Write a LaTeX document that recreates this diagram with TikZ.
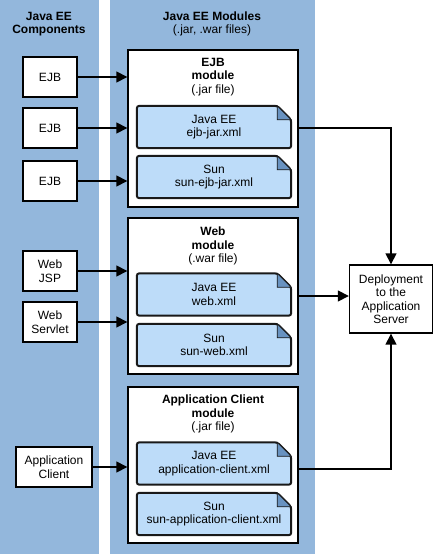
\documentclass[tikz,border=0pt]{standalone}
\usepackage{fontspec}
\setmainfont{Liberation Sans}
\usetikzlibrary{arrows.meta,calc}
\definecolor{colblue}{RGB}{147,183,220}
\definecolor{docblue}{RGB}{189,220,249}
\definecolor{foldblue}{RGB}{104,146,192}
\definecolor{docdark}{RGB}{25,25,25}
\newcommand\docnode[3]{%
  \node[doctext] (#1) at (#2) {#3};
  \draw[docline] ([xshift=-14pt]#1.north east) -- (#1.north west) -- (#1.south west) -- (#1.south east) -- ([yshift=-14pt]#1.north east) -- cycle;
  \draw[foldline] ([xshift=-14pt]#1.north east) -- ([xshift=-14pt,yshift=-14pt]#1.north east) -- ([yshift=-14pt]#1.north east) -- cycle;
  \node[doctext] at (#2) {#3};
}
\begin{document}
\begin{tikzpicture}[x=1pt,y=-1pt,
  every node/.style={font=\fontsize{12}{13.5}\selectfont, align=center, inner sep=0pt},
  column/.style={fill=colblue, draw=none},
  compbox/.style={draw=black, fill=white, line width=1.4pt, minimum height=40pt},
  modbox/.style={draw=black, fill=white, line width=1.4pt, minimum width=170pt},
  doctext/.style={minimum width=154pt, minimum height=42pt},
  docline/.style={fill=docblue, draw=docdark, line width=2pt, rounded corners=2.5pt},
  foldline/.style={fill=foldblue, draw=docdark, line width=0.7pt},
  conn/.style={line width=1.5pt, -{Triangle[length=11pt,width=11pt]}},
  title/.style={font=\fontsize{12}{13.5}\selectfont\bfseries}
]
\useasboundingbox (0,0) rectangle (433,554);
\fill[white] (0,0) rectangle (433,554);
\path[column] (0,0) rectangle (99,554);
\path[column] (110,0) rectangle (315,554);

\node[title] (tcomp) at (49,24) {Java EE\\Components};
\node (tmod) at (212,24) {\textbf{Java EE Modules}\\(.jar, .war files)};

% components
\node[compbox, minimum width=54pt] (ejb1) at (50,77) {EJB};
\node[compbox, minimum width=54pt] (ejb2) at (50,128) {EJB};
\node[compbox, minimum width=54pt] (ejb3) at (50,181) {EJB};
\node[compbox, minimum width=54pt] (jsp) at (50,271) {Web\\JSP};
\node[compbox, minimum width=54pt] (servlet) at (50,322) {Web\\Servlet};
\node[compbox, minimum width=76pt] (appc) at (54,467) {Application\\Client};

% modules
\node[modbox, minimum height=157pt] (ejbmod) at (213,128.5) {};
\node (ejbtitle) at (213,77) {\textbf{EJB}\\\textbf{module}\\(.jar file)};
\docnode{ejbdd}{214,127}{Java EE\\ejb-jar.xml}
\docnode{ejbsun}{214,177}{Sun\\sun-ejb-jar.xml}

\node[modbox, minimum height=156pt] (webmod) at (213,296) {};
\node (webtitle) at (213,246) {\textbf{Web}\\\textbf{module}\\(.war file)};
\docnode{webdd}{214,294.5}{Java EE\\web.xml}
\docnode{websun}{214,345}{Sun\\sun-web.xml}

\node[modbox, minimum height=156pt] (appmod) at (213,465) {};
\node (apptitle) at (213,414) {\textbf{Application Client}\\\textbf{module}\\(.jar file)};
\docnode{appdd}{214,463.5}{Java EE\\application-client.xml}
\docnode{appsun}{214,514}{Sun\\sun-application-client.xml}

% deployment
\node[compbox, minimum width=83pt, minimum height=68pt] (dep) at (391,299) {Deployment\\to the\\Application\\Server};

% connectors
\draw[conn] (ejb1.east) -- (ejb1.east -| ejbmod.west);
\draw[conn] (ejb2.east) -- (ejb2.east -| ejbmod.west);
\draw[conn] (ejb3.east) -- (ejb3.east -| ejbmod.west);
\draw[conn] (jsp.east) -- (jsp.east -| webmod.west);
\draw[conn] (servlet.east) -- (servlet.east -| webmod.west);
\draw[conn] (appc.east) -- (appc.east -| appmod.west);

\coordinate (ejbout) at ($(ejbmod.east)+(0,-0.5)$);
\draw[conn] (ejbout) -| (dep.north);
\draw[conn] (webmod.east) -- (webmod.east -| dep.west);
\coordinate (appout) at ($(appmod.east)+(0,4)$);
\draw[conn] (appout) -| (dep.south);
\end{tikzpicture}
\end{document}
